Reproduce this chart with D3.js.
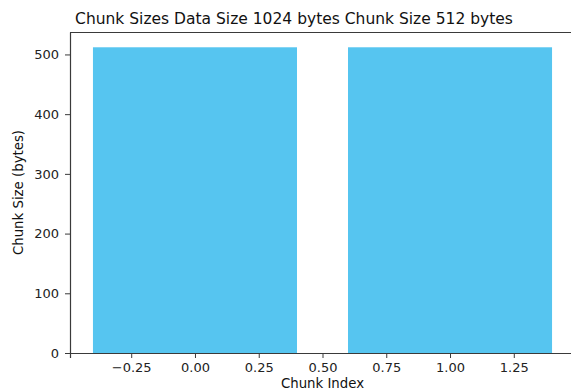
<!DOCTYPE html>
<html>
<head>
<meta charset="utf-8">
<script src="https://cdn.jsdelivr.net/npm/d3@7"></script>
<style>
  html, body { margin: 0; padding: 0; background: #fff; }
  svg { display: block; }
</style>
</head>
<body>
<div id="chart"></div>
<script>
(function () {
  'use strict';

  // ── Data ──
  var chunkIndex = [0, 1];
  var chunkSizes = [512, 512];
  var xTicks = [-0.25, 0, 0.25, 0.5, 0.75, 1, 1.25];
  var yTicks = [0, 100, 200, 300, 400, 500];

  // ── Constants ──
  var WIDTH = 571;
  var HEIGHT = 392;
  var BAR_WIDTH = 0.8;
  var BAR_COLOR = '#56c5f0';
  var AXIS_COLOR = '#3a3a3a';
  var FONT = 'DejaVu Sans, sans-serif';
  var TICK_FONT_SIZE = '13px';
  var LABEL_FONT_SIZE = '13.3px';
  var TITLE_FONT_SIZE = '15.5px';
  var MARGIN = { top: 32, right: -4, bottom: 39, left: 70 };

  var innerW = WIDTH - MARGIN.left - MARGIN.right;
  var innerH = HEIGHT - MARGIN.top - MARGIN.bottom;

  var svg = d3.select('#chart').append('svg')
    .attr('width', WIDTH)
    .attr('height', HEIGHT);

  var g = svg.append('g')
    .attr('transform', 'translate(' + MARGIN.left + ',' + MARGIN.top + ')');

  // Matplotlib style 5% margins
  var xMin = d3.min(chunkIndex) - BAR_WIDTH / 2;
  var xMax = d3.max(chunkIndex) + BAR_WIDTH / 2;
  var xPad = (xMax - xMin) * 0.05;
  var x = d3.scaleLinear().domain([xMin - xPad, xMax + xPad]).range([0, innerW]);
  var y = d3.scaleLinear().domain([0, d3.max(chunkSizes) * 1.05]).range([innerH, 0]);

  // ── Bars ──
  g.selectAll('.bar')
    .data(chunkIndex)
    .join('rect')
    .attr('class', 'bar')
    .attr('x', function (d) { return x(d - BAR_WIDTH / 2); })
    .attr('width', function (d) { return x(d + BAR_WIDTH / 2) - x(d - BAR_WIDTH / 2); })
    .attr('y', function (d, i) { return y(chunkSizes[i]); })
    .attr('height', function (d, i) { return innerH - y(chunkSizes[i]); })
    .attr('fill', BAR_COLOR);

  // ── Axes ──
  var xAxis = d3.axisBottom(x)
    .tickValues(xTicks)
    .tickSize(5)
    .tickPadding(5)
    .tickFormat(function (d) { return d3.format('.2f')(d).replace('-', '\u2212'); });

  var yAxis = d3.axisLeft(y)
    .tickValues(yTicks)
    .tickSize(5)
    .tickPadding(6)
    .tickFormat(d3.format('d'));

  var gx = g.append('g')
    .attr('transform', 'translate(0,' + innerH + ')')
    .call(xAxis);
  var gy = g.append('g').call(yAxis);

  [gx, gy].forEach(function (ax) {
    ax.select('.domain').attr('stroke', AXIS_COLOR).attr('stroke-width', 1.2);
    ax.selectAll('.tick line').attr('stroke', AXIS_COLOR);
    ax.selectAll('.tick text')
      .attr('fill', '#222')
      .attr('font-family', FONT)
      .attr('font-size', TICK_FONT_SIZE);
  });
  gy.select('.domain').attr('d', 'M0.5,' + innerH + 'V0.5');

  // Top spine
  g.append('line')
    .attr('x1', 0).attr('x2', innerW)
    .attr('y1', 0.5).attr('y2', 0.5)
    .attr('stroke', AXIS_COLOR)
    .attr('stroke-width', 1.2);

  // ── Labels ──
  svg.append('text')
    .attr('x', 294)
    .attr('y', 24)
    .attr('text-anchor', 'middle')
    .attr('font-family', FONT)
    .attr('font-size', TITLE_FONT_SIZE)
    .attr('fill', '#111')
    .text('Chunk Sizes Data Size 1024 bytes Chunk Size 512 bytes');

  svg.append('text')
    .attr('x', MARGIN.left + innerW / 2)
    .attr('y', 388)
    .attr('text-anchor', 'middle')
    .attr('font-family', FONT)
    .attr('font-size', LABEL_FONT_SIZE)
    .attr('fill', '#111')
    .text('Chunk Index');

  svg.append('text')
    .attr('transform', 'translate(23,' + (MARGIN.top + innerH / 2) + ') rotate(-90)')
    .attr('text-anchor', 'middle')
    .attr('font-family', FONT)
    .attr('font-size', LABEL_FONT_SIZE)
    .attr('fill', '#111')
    .text('Chunk Size (bytes)');
})();
</script>
</body>
</html>
